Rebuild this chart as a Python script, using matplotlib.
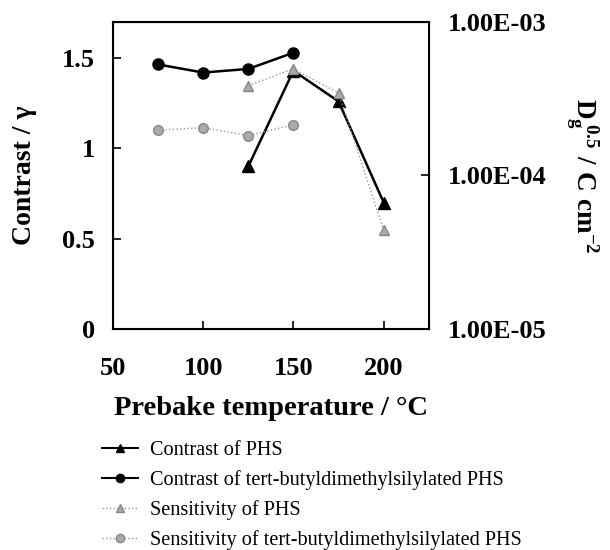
import matplotlib
matplotlib.use("Agg")
import matplotlib.pyplot as plt
from matplotlib.lines import Line2D

plt.rcParams['font.family'] = ['Liberation Serif', 'DejaVu Serif']
plt.rcParams['mathtext.fontset'] = 'custom'
plt.rcParams['mathtext.rm'] = 'Liberation Serif:bold'
plt.rcParams['mathtext.bf'] = 'Liberation Serif:bold'
plt.rcParams['mathtext.it'] = 'Liberation Serif:bold'

# data
temp_phs = [125, 150, 175, 200]
contrast_phs = [0.90, 1.43, 1.26, 0.70]
temp_sil = [75, 100, 125, 150]
contrast_sil = [1.465, 1.42, 1.44, 1.53]
sens_phs = [3.85e-4, 4.95e-4, 3.45e-4, 4.4e-5]
sens_sil = [1.97e-4, 2.05e-4, 1.82e-4, 2.14e-4]

x_ticks = [50, 100, 150, 200]
y_ticks = [0, 0.5, 1, 1.5]
y_labels = ['0', '0.5', '1', '1.5']
r_ticks = [1e-5, 1e-4, 1e-3]
r_labels = ['1.00E-05', '1.00E-04', '1.00E-03']

fig = plt.figure(figsize=(6.1, 5.5), dpi=100)
ax = fig.add_axes([0.185, 0.402, 0.518, 0.558])
ax2 = ax.twinx()

ax.plot(temp_phs, contrast_phs, color='black', lw=1.8, marker='^', ms=8)
ax.plot(temp_sil, contrast_sil, color='black', lw=1.8, marker='o', ms=8)
ax2.plot(temp_phs, sens_phs, color='#999999', lw=1, ls=':', marker='^', ms=7,
         mfc='#aaaaaa', mec='#888888')
ax2.plot(temp_sil, sens_sil, color='#999999', lw=1, ls=':', marker='o', ms=7,
         mfc='#aaaaaa', mec='#888888')

ax.set_xlim(50, 225)
ax.set_ylim(0, 1.7)
ax2.set_yscale('log')
ax2.set_ylim(1e-5, 1e-3)

tick_font = dict(fontsize=19, fontweight='bold')
ax.set_xticks(x_ticks)
ax.set_xticklabels([str(t) for t in x_ticks], **tick_font)
ax.set_yticks(y_ticks)
ax.set_yticklabels(y_labels, **tick_font)
ax2.set_yticks(r_ticks)
ax2.set_yticklabels(r_labels, **tick_font)
ax2.minorticks_off()

ax.tick_params(axis='x', direction='in', length=6, width=1.2, pad=20)
ax.tick_params(axis='y', direction='in', length=6, width=1.2, pad=13)
ax2.tick_params(axis='y', direction='in', length=6, width=1.2, pad=14)
for s in ax.spines.values():
    s.set_linewidth(1.5)

ax.set_xlabel('Prebake temperature / °C', fontsize=20.5, fontweight='bold', labelpad=12)
ax.set_ylabel('Contrast / γ', fontsize=20, fontweight='bold', labelpad=18)
ax2.set_ylabel(r'$\mathbf{D_g^{\ 0.5}\ /\ C\ cm^{-2}}$', fontsize=19.5,
               rotation=-90, va='bottom', labelpad=12)

handles = [
    Line2D([], [], color='black', lw=1.5, marker='^', ms=6),
    Line2D([], [], color='black', lw=1.5, marker='o', ms=6),
    Line2D([], [], color='#999999', lw=1, ls=':', marker='^', ms=6, mfc='#aaaaaa', mec='#888888'),
    Line2D([], [], color='#999999', lw=1, ls=':', marker='o', ms=6, mfc='#aaaaaa', mec='#888888'),
]
labels = ['Contrast of PHS',
          'Contrast of tert-butyldimethylsilylated PHS',
          'Sensitivity of PHS',
          'Sensitivity of tert-butyldimethylsilylated PHS']
fig.legend(handles, labels, loc='upper left', bbox_to_anchor=(0.167, 0.198),
           frameon=False, fontsize=14.6, handlelength=1.8, labelspacing=0.5,
           handletextpad=0.55, borderaxespad=0, borderpad=0)

fig.savefig('out.png', dpi=100)
